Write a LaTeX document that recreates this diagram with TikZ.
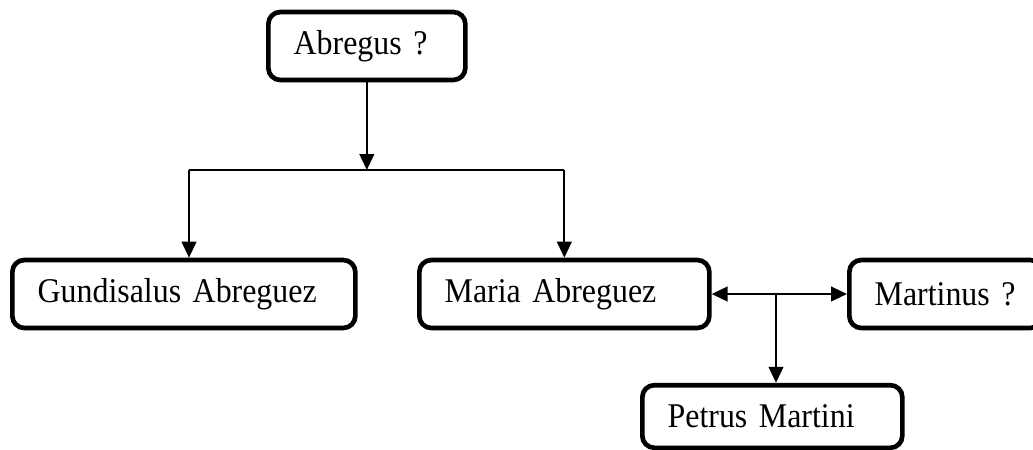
\documentclass[tikz,border=0pt]{standalone}
\usepackage{fontspec}
\setmainfont{Liberation Serif}
\newfontfamily\personfont[FakeStretch=0.92]{Liberation Serif}
\usetikzlibrary{arrows.meta}

\begin{document}
\begin{tikzpicture}[x=0.75pt,y=-0.75pt,
	person/.style={draw, line width=3.5pt, rounded corners=9pt, anchor=west,
		inner xsep=19pt, minimum height=51pt, align=left,
		font=\personfont\fontsize{26}{30}\selectfont},
	link/.style={line width=1.6pt},
	>={Triangle[length=12pt,width=11pt]}]
	\useasboundingbox (0,0) rectangle (1033,450);

	\node[person, text width=109.75pt] (abregus) at (266,46) {Abregus ?};
	\node[person, text width=219.25pt] (gundisalus) at (10,294) {Gundisalus Abreguez};
	\node[person, text width=179.5pt] (maria) at (417,294) {Maria Abreguez};
	\node[person, text width=106.75pt] (martinus) at (847,294) {Martinus ?};
	\node[person, text width=157pt, minimum height=47pt] (petrus) at (640,416.5) {Petrus Martini};

	\coordinate (split) at (abregus.south |- 0,170);
	\coordinate (barL) at (189,170);
	\coordinate (barR) at (maria.north |- 0,170);
	\coordinate (marriage) at (776,294);

	\draw[link, ->] (abregus.south) -- (split);
	\draw[link] (barL) -- (barR);
	\draw[link, ->] (barL) -- (barL |- gundisalus.north);
	\draw[link, ->] (barR) -- (maria.north);

	\draw[link, <->] (maria.east) -- (martinus.west);
	\draw[link, ->] (marriage) -- (marriage |- petrus.north);
\end{tikzpicture}
\end{document}
